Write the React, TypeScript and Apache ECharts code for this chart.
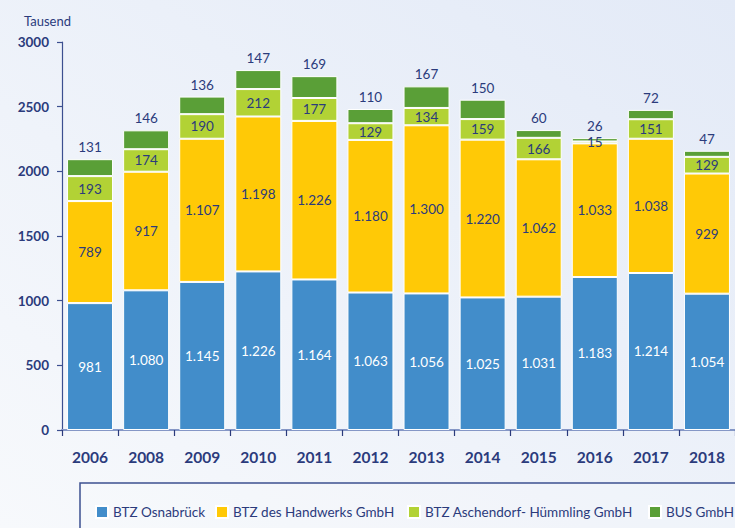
import React, { useEffect, useRef } from "react";
import * as echarts from "echarts";

const years = ["2006", "2008", "2009", "2010", "2011", "2012", "2013", "2014", "2015", "2016", "2017", "2018"];
const seriesNames = ["BTZ Osnabrück", "BTZ des Handwerks GmbH", "BTZ Aschendorf- Hümmling GmbH", "BUS GmbH"];
const osnabrueck = [981, 1080, 1145, 1226, 1164, 1063, 1056, 1025, 1031, 1183, 1214, 1054];
const handwerks = [789, 917, 1107, 1198, 1226, 1180, 1300, 1220, 1062, 1033, 1038, 929];
const aschendorf = [193, 174, 190, 212, 177, 129, 134, 159, 166, 15, 151, 129];
const bus = [131, 146, 136, 147, 169, 110, 167, 150, 60, 26, 72, 47];
const yTicks = { min: 0, max: 3000, interval: 500 };

const colors = ["#428dca", "#ffc906", "#b2d235", "#5a9f37"];
const navy = "#2b3b7c";
const font = "Lato";

const fmt = (v: number) =>
  v >= 1000 ? `${Math.floor(v / 1000)}.${String(v % 1000).padStart(3, "0")}` : String(v);

export default function App() {
  const ref = useRef<HTMLDivElement>(null);
  useEffect(() => {
    if (!ref.current) return;
    const chart = echarts.init(ref.current, null, { renderer: "svg" });
    const data = [osnabrueck, handwerks, aschendorf, bus];
    const legendLefts = [90, 210, 402, 643];
    chart.setOption({
      animation: false,
      textStyle: { fontFamily: font },
      title: {
        text: "Tausend",
        left: 19,
        top: 9,
        textStyle: { color: navy, fontSize: 13, fontWeight: "normal", fontFamily: font },
      },
      grid: { left: 62, top: 42, width: 682, bottom: 98, containLabel: false },
      legend: seriesNames.map((n, i) => ({
        data: [n],
        left: legendLefts[i],
        top: 500,
        itemWidth: 12,
        itemHeight: 12,
        itemGap: 5,
        icon: "rect",
        textStyle: { color: navy, fontSize: 13.5, fontFamily: font },
      })),
      xAxis: {
        type: "category",
        data: years,
        axisLine: { lineStyle: { color: "#8597c6", width: 2 } },
        axisTick: { show: true, length: 6, lineStyle: { color: navy, width: 1.2 } },
        axisLabel: { color: navy, fontSize: 15.5, fontWeight: "bold", margin: 19, fontFamily: font },
      },
      yAxis: {
        type: "value",
        min: yTicks.min,
        max: yTicks.max,
        interval: yTicks.interval,
        splitLine: { show: false },
        axisLine: { show: true, lineStyle: { color: "#3c4f90", width: 1.2 } },
        axisTick: { show: true, length: 5, lineStyle: { color: "#3c4f90", width: 1.2 } },
        axisLabel: {
          color: navy,
          fontSize: 13.5,
          fontWeight: "bold",
          margin: 13,
          fontFamily: font,
          formatter: (v: number) => String(v),
        },
      },
      series: seriesNames.map((n, i) => ({
        name: n,
        type: "bar",
        stack: "total",
        barWidth: 46,
        data: data[i],
        itemStyle: { color: colors[i], borderColor: "#ffffff", borderWidth: 1 },
        label: {
          show: true,
          position: i === 3 ? "top" : "inside",
          distance: 5,
          color: i === 0 ? "#ffffff" : navy,
          fontSize: 13.5,
          fontFamily: font,
          formatter: (p: any) => fmt(p.value),
        },
      })),
      graphic: [
        {
          type: "rect",
          shape: { x: 80, y: 483, width: 700, height: 80 },
          style: { fill: "rgba(255,255,255,0.15)", stroke: "#3d5090", lineWidth: 1.5 },
          z: -1,
          silent: true,
        },
      ],
    });
    return () => chart.dispose();
  }, []);
  return (
    <div
      style={{
        position: "fixed",
        left: 0,
        top: 0,
        width: 735,
        height: 528,
        background: "linear-gradient(to top right, #f7f9fc, #e3eaf7)",
      }}
    >
      <div ref={ref} style={{ width: 735, height: 528 }} />
    </div>
  );
}
